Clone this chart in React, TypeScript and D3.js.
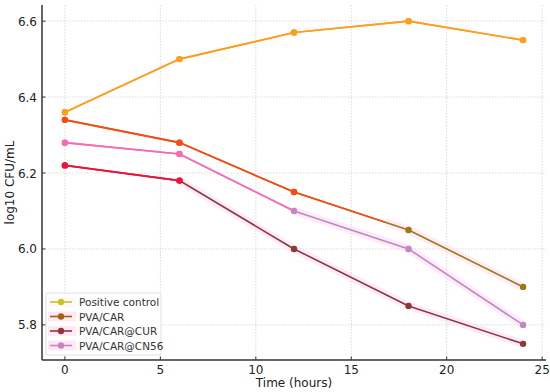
import React from "react";
import * as d3 from "d3";

const times = [0, 6, 12, 18, 24];
const seriesNames = ["Positive control", "PVA/CAR", "PVA/CAR@CUR", "PVA/CAR@CN56"];
const positiveControl = [6.36, 6.5, 6.57, 6.6, 6.55];
const pvaCar = [6.34, 6.28, 6.15, 6.05, 5.9];
const pvaCarCur = [6.22, 6.18, 6.0, 5.85, 5.75];
const pvaCarCn56 = [6.28, 6.25, 6.1, 6.0, 5.8];
const seriesValues = [positiveControl, pvaCar, pvaCarCur, pvaCarCn56];
// x extent (hours) of the bright overlay stroke drawn over each series
const overlayEnd = [24, 16.8, 6, 12];
// last time point whose marker shows the bright overlay colour
const overlayMarkerEnd = [24, 12, 6, 6];
const xTicks = [0, 5, 10, 15, 20, 25];
const yTicks = [5.8, 6.0, 6.2, 6.4, 6.6];

const legendColors = ["#c9c21f", "#a8600e", "#903636", "#c587c4"];
const baseColors = ["#ff9d1c", "#9c7a10", "#8a3a36", "#c088c0"];
const overlayColors = ["#ff9d1c", "#ff4614", "#f5103c", "#ff66b4"];

const W = 550, H = 392;
const M = { left: 42, right: 4, top: 5, bottom: 32 };

export default function App() {
  const x = d3.scaleLinear().domain([-1.2, 25.2]).range([M.left, W - M.right]);
  const y = d3.scaleLinear().domain([5.7075, 6.6425]).range([H - M.bottom, M.top]);
  const line = d3.line<number>().x((_, i) => x(times[i])).y((v) => y(v));
  const font = "DejaVu Sans, sans-serif";
  const x0 = M.left, x1 = W - M.right, y0 = M.top, y1 = H - M.bottom;

  return (
    <svg width={W} height={H} style={{ position: "absolute", left: 0, top: 0, background: "#fff" }}>
      <defs>
        {seriesValues.map((_, s) => (
          <clipPath id={`ov${s}`} key={s}>
            <rect x={0} y={0} width={x(overlayEnd[s])} height={H} />
          </clipPath>
        ))}
        {seriesValues.map((_, s) => (
          <clipPath id={`gl${s}`} key={"g" + s}>
            <rect x={x(overlayEnd[s])} y={0} width={W} height={H} />
          </clipPath>
        ))}
      </defs>
      {/* grid */}
      {xTicks.map((t) => (
        <line key={"gx" + t} x1={x(t)} x2={x(t)} y1={y0} y2={y1} stroke="#d0d0d0" strokeWidth={0.8} strokeDasharray="1.5,1.5" />
      ))}
      {yTicks.map((t) => (
        <line key={"gy" + t} x1={x0} x2={x1} y1={y(t)} y2={y(t)} stroke="#d0d0d0" strokeWidth={0.8} strokeDasharray="1.5,1.5" />
      ))}
      {/* faint pink glow along darker portions */}
      {seriesValues.map((vals, s) =>
        s === 0 ? null : (
          <path key={"glow" + s} d={line(vals) || ""} fill="none" stroke="#ffd6f2" strokeOpacity={0.5} strokeWidth={8} clipPath={`url(#gl${s})`} />
        )
      )}
      {seriesValues.map((vals, s) => (
        <g key={"base" + s}>
          <path d={line(vals) || ""} fill="none" stroke={baseColors[s]} strokeWidth={1.6} />
          {vals.map((v, i) => (
            <circle key={i} cx={x(times[i])} cy={y(v)} r={3.2} fill={baseColors[s]} />
          ))}
        </g>
      ))}
      {seriesValues.map((vals, s) => (
        <g key={"ov" + s}>
          <path d={line(vals) || ""} fill="none" stroke={overlayColors[s]} strokeWidth={1.6} clipPath={`url(#ov${s})`} />
          {vals.map((v, i) =>
            times[i] <= overlayMarkerEnd[s] ? (
              <circle key={i} cx={x(times[i])} cy={y(v)} r={3.2} fill={overlayColors[s]} />
            ) : null
          )}
        </g>
      ))}
      {/* axes */}
      <line x1={x0} x2={x0} y1={y0} y2={y1} stroke="#333" strokeWidth={1.5} />
      <line x1={x0} x2={x1} y1={y1} y2={y1} stroke="#333" strokeWidth={1.5} />
      {xTicks.map((t) => (
        <g key={"tx" + t}>
          <line x1={x(t)} x2={x(t)} y1={y1} y2={y1 - 3.5} stroke="#333" strokeWidth={1} />
          <text x={x(t)} y={y1 + 14} textAnchor="middle" fontFamily={font} fontSize={12} fill="#222">{t}</text>
        </g>
      ))}
      {yTicks.map((t) => (
        <g key={"ty" + t}>
          <line x1={x0} x2={x0 + 3.5} y1={y(t)} y2={y(t)} stroke="#333" strokeWidth={1} />
          <text x={x0 - 5} y={y(t) + 4.5} textAnchor="end" fontFamily={font} fontSize={12} fill="#222">{t.toFixed(1)}</text>
        </g>
      ))}
      <text x={(x0 + x1) / 2} y={387} textAnchor="middle" fontFamily={font} fontSize={12} fill="#222">Time (hours)</text>
      <text transform={`translate(14,${(y0 + y1) / 2}) rotate(-90)`} textAnchor="middle" fontFamily={font} fontSize={12} fill="#222">log10 CFU/mL</text>
      {/* legend */}
      <g transform="translate(46,293)">
        <rect x={0} y={0} width={115} height={62} rx={2} fill="#fff" fillOpacity={0.85} stroke="#d8d8d8" strokeWidth={0.8} />
        {seriesNames.map((n, i) => (
          <g key={n} transform={`translate(0,${9 + i * 14.5})`}>
            <rect x={2} y={-5} width={28} height={10} fill="#fde4f4" opacity={i === 0 ? 0.3 : 0.8} />
            <line x1={4} x2={26} y1={0} y2={0} stroke={legendColors[i]} strokeWidth={1.6} />
            <circle cx={15} cy={0} r={3.2} fill={legendColors[i]} />
            <text x={33} y={4} fontFamily={font} fontSize={10.5} fill="#333">{n}</text>
          </g>
        ))}
      </g>
    </svg>
  );
}
